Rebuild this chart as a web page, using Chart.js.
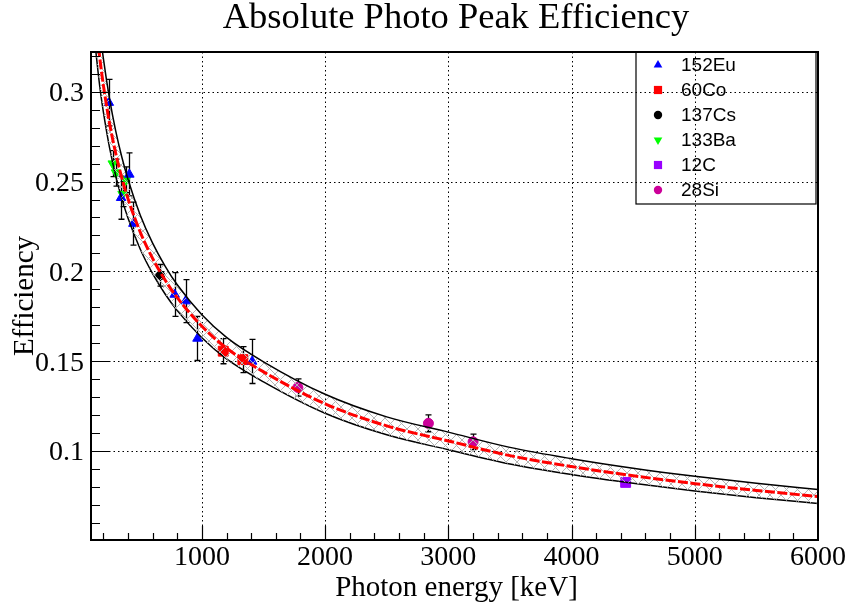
<!DOCTYPE html>
<html>
<head>
<meta charset="utf-8">
<script src="https://cdn.jsdelivr.net/npm/chart.js@4.4.1/dist/chart.umd.min.js"></script>
<style>
  html, body { margin: 0; padding: 0; background: #fff; }
</style>
</head>
<body>
<canvas id="chart_efficiency" width="846" height="608"></canvas>
<script>
// fitted efficiency curve and its error band
const fitEnergy = [140, 160, 180, 200, 250, 300, 350, 400, 500, 600, 700, 800, 1000, 1200, 1500, 2000, 2500, 3000, 3500, 4000, 4500, 5000, 5500, 6000];
const fitEff    = [0.3390, 0.3257, 0.3140, 0.3039, 0.2827, 0.2659, 0.2521, 0.2405, 0.2218, 0.2072, 0.1953, 0.1853, 0.1694, 0.1572, 0.1440, 0.1262, 0.1139, 0.1055, 0.0973, 0.0912, 0.0861, 0.0817, 0.0779, 0.0745];
const bandUpper = [0.3560, 0.3420, 0.3297, 0.3188, 0.2963, 0.2784, 0.2637, 0.2513, 0.2313, 0.2157, 0.2031, 0.1925, 0.1758, 0.1632, 0.1496, 0.1315, 0.1189, 0.1104, 0.1019, 0.0956, 0.0903, 0.0858, 0.0819, 0.0784];
const bandLower = [0.3221, 0.3094, 0.2983, 0.2890, 0.2691, 0.2534, 0.2405, 0.2297, 0.2123, 0.1987, 0.1875, 0.1781, 0.1630, 0.1512, 0.1384, 0.1209, 0.1089, 0.1006, 0.0927, 0.0868, 0.0819, 0.0776, 0.0739, 0.0706];

// measured peaks per source: energy [keV], efficiency, error
const euEnergy = [244.7, 344.3, 411.1, 443.9, 778.9, 867.4, 964.1, 1408.0];
const euEff    = [0.294, 0.241, 0.254, 0.2266, 0.1871, 0.1834, 0.1626, 0.1498];
const euErr    = [0.013, 0.012, 0.012, 0.012, 0.0122, 0.012, 0.0123, 0.0123];

const coEnergy = [1173.2, 1332.5];
const coEff    = [0.1555, 0.1508];
const coErr    = [0.007, 0.0072];

const csEnergy = [661.7];
const csEff    = [0.1978];
const csErr    = [0.006];

const baEnergy = [276.4, 302.9, 356.0, 383.8];
const baEff    = [0.260, 0.255, 0.243, 0.251];
const baErr    = [0.0072, 0.0075, 0.007, 0.0072];

const cEnergy = [4438.9];
const cEff    = [0.0824];
const cErr    = [0.002];

const siEnergy = [1778.9, 2838.3, 3200.7];
const siEff    = [0.1353, 0.1153, 0.1050];
const siErr    = [0.0048, 0.0047, 0.0043];

const xTickValues = [1000, 2000, 3000, 4000, 5000, 6000];
const xTickLabels = ['1000', '2000', '3000', '4000', '5000', '6000'];
const yTickValues = [0.1, 0.15, 0.2, 0.25, 0.3];
const yTickLabels = ['0.1', '0.15', '0.2', '0.25', '0.3'];

const sources = [
  { name: '152Eu', e: euEnergy, v: euEff, err: euErr, color: '#0000ff', style: 'triangle', radius: 5.5, rotation: 0 },
  { name: '60Co',  e: coEnergy, v: coEff, err: coErr, color: '#ff0000', style: 'rect', radius: 7, rotation: 0 },
  { name: '137Cs', e: csEnergy, v: csEff, err: csErr, color: '#000000', style: 'circle', radius: 4.5, rotation: 0 },
  { name: '133Ba', e: baEnergy, v: baEff, err: baErr, color: '#00ff00', style: 'triangle', radius: 5.5, rotation: 180 },
  { name: '12C',   e: cEnergy,  v: cEff,  err: cErr,  color: '#9900ff', style: 'rect', radius: 7, rotation: 0 },
  { name: '28Si',  e: siEnergy, v: siEff, err: siErr, color: '#cc0099', style: 'circle', radius: 5, rotation: 0 },
];

const serif = '"Liberation Serif", "Times New Roman", serif';
const sans = '"Liberation Sans", Arial, sans-serif';

function xy(xs, ys) {
  return xs.map((x, i) => ({ x: x, y: ys[i] }));
}

function hatch() {
  const c = document.createElement('canvas');
  c.width = 11; c.height = 11;
  const g = c.getContext('2d');
  g.strokeStyle = '#b4b4b4';
  g.lineWidth = 1;
  g.beginPath();
  g.moveTo(-1, -1); g.lineTo(12, 12);
  g.moveTo(12, -1); g.lineTo(-1, 12);
  g.stroke();
  return g.createPattern(c, 'repeat');
}

function marker(ctx, style, x, y, r, rotation) {
  ctx.beginPath();
  if (style === 'circle') {
    ctx.arc(x, y, r, 0, Math.PI * 2);
  } else if (style === 'rect') {
    const s = r * Math.SQRT1_2;
    ctx.rect(x - s, y - s, 2 * s, 2 * s);
  } else {
    const rad = rotation * Math.PI / 180;
    for (let k = 0; k < 3; k++) {
      const a = rad - Math.PI / 2 + k * 2 * Math.PI / 3;
      const px = x + Math.cos(a) * r, py = y + Math.sin(a) * r;
      if (k === 0) ctx.moveTo(px, py); else ctx.lineTo(px, py);
    }
    ctx.closePath();
  }
  ctx.fill();
}

// grid, error bars, frame, ticks, legend and titles drawn around the datasets
const decorations = {
  id: 'decorations',
  beforeDatasetsDraw(chart) {
    const { ctx, chartArea: a, scales: { x, y } } = chart;
    ctx.save();
    ctx.strokeStyle = '#000';
    ctx.lineWidth = 1;
    ctx.setLineDash([1.5, 3]);
    ctx.beginPath();
    xTickValues.forEach(v => {
      if (v >= x.max) return;
      const px = Math.round(x.getPixelForValue(v)) + 0.5;
      ctx.moveTo(px, a.top); ctx.lineTo(px, a.bottom);
    });
    yTickValues.forEach(v => {
      const py = Math.round(y.getPixelForValue(v)) + 0.5;
      ctx.moveTo(a.left, py); ctx.lineTo(a.right, py);
    });
    ctx.stroke();
    ctx.setLineDash([]);

    // error bars
    ctx.beginPath();
    ctx.rect(a.left, a.top, a.right - a.left, a.bottom - a.top);
    ctx.clip();
    ctx.lineWidth = 1.3;
    ctx.beginPath();
    sources.forEach(s => {
      s.e.forEach((e, i) => {
        const px = Math.round(x.getPixelForValue(e)) + 0.5;
        const top = y.getPixelForValue(s.v[i] + s.err[i]);
        const bot = y.getPixelForValue(s.v[i] - s.err[i]);
        ctx.moveTo(px, top); ctx.lineTo(px, bot);
        ctx.moveTo(px - 3, top); ctx.lineTo(px + 3, top);
        ctx.moveTo(px - 3, bot); ctx.lineTo(px + 3, bot);
      });
    });
    ctx.stroke();
    ctx.restore();
  },
  afterDatasetsDraw(chart) {
    const { ctx, chartArea: a, scales: { x, y } } = chart;
    ctx.save();
    ctx.strokeStyle = '#000';
    ctx.fillStyle = '#000';

    // frame
    ctx.lineWidth = 2;
    ctx.strokeRect(a.left, a.top, a.right - a.left, a.bottom - a.top);

    // ticks
    ctx.lineWidth = 1.2;
    ctx.beginPath();
    for (let v = 200; v < 6000; v += 200) {
      const px = Math.round(x.getPixelForValue(v)) + 0.5;
      const len = v % 1000 === 0 ? 14 : 7;
      ctx.moveTo(px, a.bottom); ctx.lineTo(px, a.bottom - len);
    }
    for (let k = 6; k <= 32; k++) {
      const v = k / 100;
      const py = Math.round(y.getPixelForValue(v)) + 0.5;
      const len = k % 5 === 0 ? 18 : 9;
      ctx.moveTo(a.left, py); ctx.lineTo(a.left + len, py);
    }
    ctx.stroke();

    // tick labels
    ctx.font = '28px ' + serif;
    ctx.textBaseline = 'alphabetic';
    ctx.textAlign = 'center';
    xTickValues.forEach((v, i) => {
      ctx.fillText(xTickLabels[i], x.getPixelForValue(v), a.bottom + 25);
    });
    ctx.textAlign = 'right';
    yTickValues.forEach((v, i) => {
      ctx.fillText(yTickLabels[i], a.left - 7, y.getPixelForValue(v) + 9.5);
    });

    // axis titles and chart title
    ctx.font = '29px ' + serif;
    ctx.textAlign = 'center';
    ctx.fillText('Photon energy [keV]', (a.left + a.right) / 2 + 2, 596);
    ctx.save();
    ctx.translate(33, (a.top + a.bottom) / 2);
    ctx.rotate(-Math.PI / 2);
    ctx.fillText('Efficiency', 0, 0);
    ctx.restore();
    ctx.font = '36.5px ' + serif;
    ctx.fillText('Absolute Photo Peak Efficiency', 456, 28);

    // legend
    ctx.lineWidth = 1.2;
    ctx.strokeRect(636, 52, 180, 152);
    ctx.font = '19px ' + sans;
    ctx.textAlign = 'left';
    ctx.textBaseline = 'middle';
    sources.forEach((s, i) => {
      const ry = 65 + i * 25;
      ctx.fillStyle = s.color;
      const r = s.style === 'rect' ? 5.8 : (s.style === 'circle' ? 4.2 : 5);
      marker(ctx, s.style, 658, ry, r, s.rotation);
      ctx.fillStyle = '#000';
      ctx.fillText(s.name, 681, ry + 1);
    });
    ctx.restore();
  }
};

const pointSets = sources.map(s => ({
  type: 'scatter',
  label: s.name,
  data: xy(s.e, s.v),
  pointStyle: s.style,
  pointRotation: s.rotation,
  pointRadius: s.radius,
  pointBackgroundColor: s.color,
  pointBorderColor: s.color,
  pointBorderWidth: 1,
  order: 1,
}));

new Chart(document.getElementById('chart_efficiency'), {
  type: 'line',
  data: {
    datasets: [
      {
        label: 'fit',
        data: xy(fitEnergy, fitEff),
        borderColor: '#ff0000',
        borderWidth: 3,
        borderDash: [10, 2.5],
        pointRadius: 0,
        cubicInterpolationMode: 'monotone',
        fill: false,
        clip: 0,
        order: 0,
      },
      {
        label: 'upper',
        data: xy(fitEnergy, bandUpper),
        borderColor: '#000',
        borderWidth: 1.5,
        pointRadius: 0,
        cubicInterpolationMode: 'monotone',
        fill: '+1',
        backgroundColor: hatch(),
        clip: 0,
        order: 0,
      },
      {
        label: 'lower',
        data: xy(fitEnergy, bandLower),
        borderColor: '#000',
        borderWidth: 1.5,
        pointRadius: 0,
        cubicInterpolationMode: 'monotone',
        fill: false,
        clip: 0,
        order: 0,
      },
      ...pointSets,
    ],
  },
  options: {
    responsive: false,
    animation: false,
    events: [],
    layout: { padding: { left: 91, right: 28, top: 52, bottom: 68 } },
    plugins: {
      legend: { display: false },
      tooltip: { enabled: false },
    },
    scales: {
      x: { type: 'linear', min: 100, max: 6000, display: false },
      y: { type: 'linear', min: 0.0503, max: 0.3222, display: false },
    },
  },
  plugins: [decorations],
});
</script>
</body>
</html>
